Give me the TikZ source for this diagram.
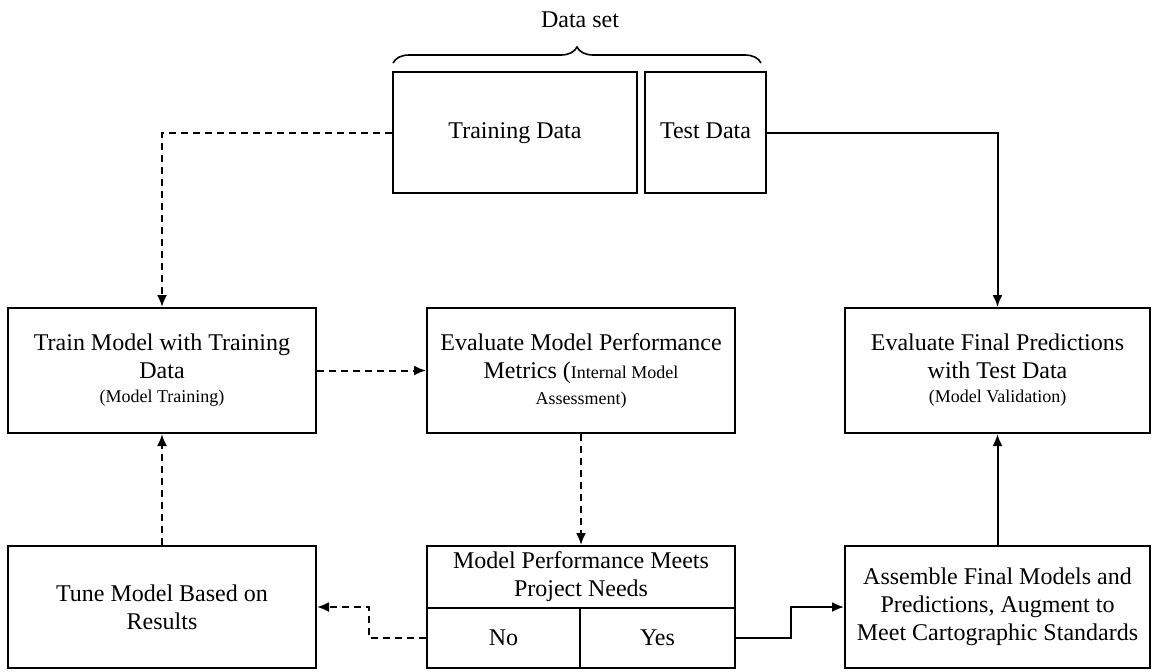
\documentclass[tikz,border=0pt]{standalone}
\usepackage{fontspec}
\setmainfont{Liberation Serif}
\usetikzlibrary{arrows.meta,decorations.pathreplacing}

\newcommand{\smalltext}[1]{{\fontsize{9}{10}\selectfont #1}}

\begin{document}
\begin{tikzpicture}[>={Latex[length=6pt,width=5pt]},x=0.5pt,y=-0.5pt,line width=1pt,
    box/.style={draw,align=center,inner sep=2pt,font=\fontsize{12}{14}\selectfont},
    dashline/.style={dash pattern=on 3.5pt off 2.5pt}]
    \useasboundingbox (0,0) rectangle (1154,671);
    % data set
    \node[box,text height=8pt,text depth=2pt,minimum width=122pt,minimum height=60.5pt] (trainset) at (515,132.5) {Training Data};
    \node[box,text height=8pt,text depth=2pt,minimum width=60.5pt,minimum height=60.5pt] (testset) at (705.5,132.5) {Test Data};
    \draw[line width=0.8pt,decorate,decoration={brace,amplitude=8pt}] (393,63) -- (761,63);
    \node[font=\fontsize{12}{14}\selectfont] (dataset) at (580,20) {Data set};
    % middle row
    \node[box,minimum width=154pt,minimum height=62.5pt] (trainmodel) at (162,370.5) {Train Model with Training\\Data\\[-2pt]\smalltext{(Model Training)}};
    \node[box,minimum width=154pt,minimum height=62.5pt] (evalmodel) at (581,370.5) {Evaluate Model Performance\\Metrics (\smalltext{Internal Model}\\[-1pt]\smalltext{Assessment)}};
    \node[box,minimum width=152.5pt,minimum height=62.5pt] (evalfinal) at (997.5,370.5) {Evaluate Final Predictions\\with Test Data\\[-2pt]\smalltext{(Model Validation)}};
    % bottom row
    \node[box,minimum width=154pt,minimum height=61pt] (tune) at (162,607) {Tune Model Based on\\Results};
    \node[box,minimum width=154pt,minimum height=31pt] (meets) at (581,577) {Model Performance Meets\\Project Needs};
    \node[box,minimum width=76.5pt,minimum height=30pt] (no) at (503.5,638) {No};
    \node[box,minimum width=77.5pt,minimum height=30pt] (yes) at (657.5,638) {Yes};
    \node[box,minimum width=152.5pt,minimum height=61pt] (assemble) at (997.5,607) {Assemble Final Models and\\Predictions, Augment to\\Meet Cartographic Standards};
    % connectors
    \draw[->,dashline] (trainset.west) -| (trainmodel.north);
    \draw[->] (testset.east) -| (evalfinal.north);
    \draw[->,dashline] (trainmodel.east) -- (evalmodel.west);
    \draw[->,dashline] (evalmodel.south) -- (meets.north);
    \draw[->,dashline] (tune.north) -- (trainmodel.south);
    \draw[->,dashline] (no.west) -- ++(-57,0) |- (tune.east);
    \draw[->] (yes.east) -- ++(55,0) |- (assemble.west);
    \draw[->] (assemble.north) -- (evalfinal.south);
\end{tikzpicture}
\end{document}
